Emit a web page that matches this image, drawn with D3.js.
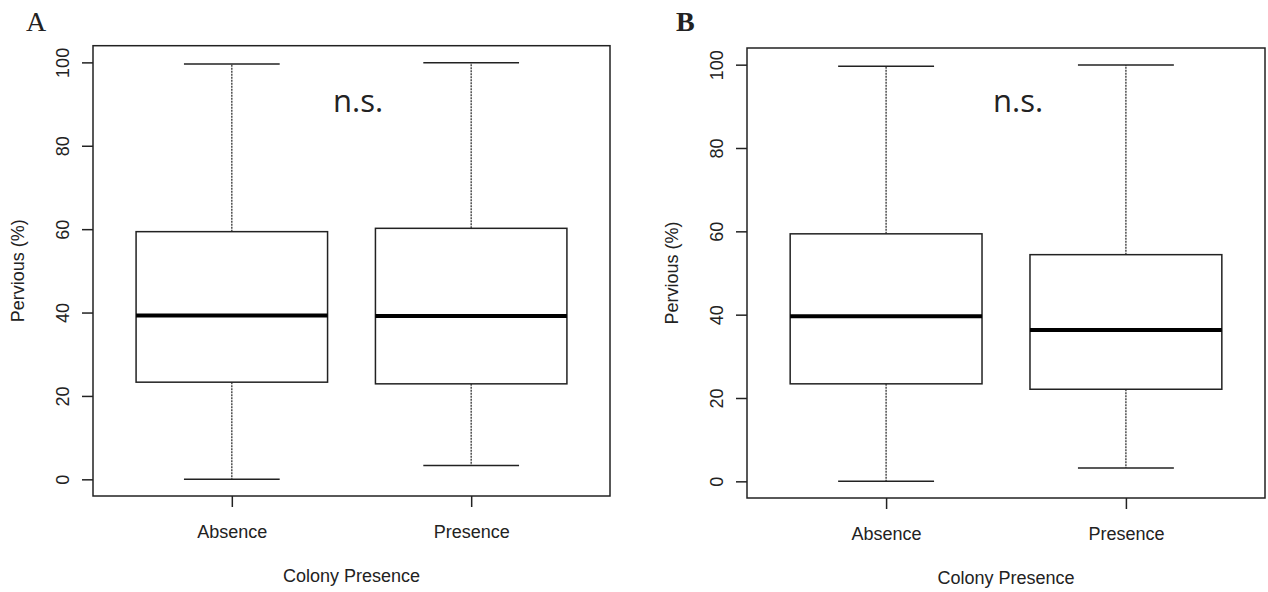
<!DOCTYPE html>
<html>
<head>
<meta charset="utf-8">
<script src="https://cdn.jsdelivr.net/npm/d3@7"></script>
<style>
  body { margin: 0; background: #fff; }
  svg text { font-family: "Liberation Sans", Arial, sans-serif; fill: #222; }
</style>
</head>
<body>
<div id="chart"></div>
<script>
// two boxplots, pervious surface vs colony presence
var categories = ["Absence", "Presence"]
var yTicks = [0, 20, 40, 60, 80, 100]

// panel A five-number summaries
var lowA  = [0, 3.3]
var q1A   = [23.3, 22.9]
var medA  = [39.3, 39.2]
var q3A   = [59.4, 60.2]
var highA = [99.6, 99.9]

// panel B
var lowB  = [0, 3.2]
var q1B   = [23.4, 22.1]
var medB  = [39.6, 36.3]
var q3B   = [59.4, 54.4]
var highB = [99.6, 99.9]

var svg = d3.select("#chart").append("svg")
  .attr("width", 1268)
  .attr("height", 592)

function boxPanel(opt) {
  var x = d3.scaleLinear().domain([0.42, 2.58]).range([opt.left, opt.right])
  var y = d3.scaleLinear().domain([-4, 104]).range([opt.bottom, opt.top])
  var g = svg.append("g")

  var rows = categories.map(function(c, i) {
    return {i: i + 1, low: opt.low[i], q1: opt.q1[i], med: opt.med[i], q3: opt.q3[i], high: opt.high[i]}
  })
  var bw = x(1.4) - x(1)   // half box width
  var cw = x(1.2) - x(1)   // half staple width

  var b = g.selectAll(".box").data(rows).enter().append("g").attr("class", "box")

  // whiskers
  b.append("line")
    .attr("x1", function(d) { return x(d.i) }).attr("x2", function(d) { return x(d.i) })
    .attr("y1", function(d) { return y(d.q3) }).attr("y2", function(d) { return y(d.high) })
    .attr("stroke", "#333").attr("stroke-width", 1.3).attr("stroke-dasharray", "2,1")
  b.append("line")
    .attr("x1", function(d) { return x(d.i) }).attr("x2", function(d) { return x(d.i) })
    .attr("y1", function(d) { return y(d.q1) }).attr("y2", function(d) { return y(d.low) })
    .attr("stroke", "#333").attr("stroke-width", 1.3).attr("stroke-dasharray", "2,1")

  // staples
  b.append("line")
    .attr("x1", function(d) { return x(d.i) - cw }).attr("x2", function(d) { return x(d.i) + cw })
    .attr("y1", function(d) { return y(d.high) }).attr("y2", function(d) { return y(d.high) })
    .attr("stroke", "#222").attr("stroke-width", 1.5)
  b.append("line")
    .attr("x1", function(d) { return x(d.i) - cw }).attr("x2", function(d) { return x(d.i) + cw })
    .attr("y1", function(d) { return y(d.low) }).attr("y2", function(d) { return y(d.low) })
    .attr("stroke", "#222").attr("stroke-width", 1.5)

  // box
  b.append("rect")
    .attr("x", function(d) { return x(d.i) - bw })
    .attr("width", 2 * bw)
    .attr("y", function(d) { return y(d.q3) })
    .attr("height", function(d) { return y(d.q1) - y(d.q3) })
    .attr("fill", "#fff").attr("stroke", "#222").attr("stroke-width", 1.5)

  // median
  b.append("line")
    .attr("x1", function(d) { return x(d.i) - bw }).attr("x2", function(d) { return x(d.i) + bw })
    .attr("y1", function(d) { return y(d.med) }).attr("y2", function(d) { return y(d.med) })
    .attr("stroke", "#000").attr("stroke-width", 4)

  // frame
  g.append("rect")
    .attr("x", opt.left).attr("y", opt.top)
    .attr("width", opt.right - opt.left).attr("height", opt.bottom - opt.top)
    .attr("fill", "none").attr("stroke", "#222").attr("stroke-width", 1.5)

  // y axis
  var ya = g.append("g")
    .attr("transform", "translate(" + opt.left + ",0)")
    .call(d3.axisLeft(y).tickValues(yTicks).tickSize(11))
  ya.select(".domain").remove()
  ya.selectAll("line").attr("stroke", "#222").attr("stroke-width", 1.5)
  ya.selectAll("text")
    .attr("x", 0).attr("dy", 0)
    .attr("text-anchor", "middle")
    .attr("transform", "translate(-24,0) rotate(-90)")
    .style("font-size", "18px")
    .attr("fill", "#222")

  // x axis
  var xa = g.append("g")
    .attr("transform", "translate(0," + opt.bottom + ")")
    .call(d3.axisBottom(x).tickValues([1, 2]).tickSize(11)
      .tickFormat(function(d) { return categories[d - 1] }))
  xa.select(".domain").remove()
  xa.selectAll("line").attr("stroke", "#222").attr("stroke-width", 1.5)
  xa.selectAll("text")
    .attr("y", 42).attr("dy", 0)
    .style("font-size", "18px")
    .attr("fill", "#222")

  // axis titles
  g.append("text")
    .attr("x", (opt.left + opt.right) / 2).attr("y", opt.bottom + 86)
    .attr("text-anchor", "middle")
    .style("font-size", "18px")
    .text("Colony Presence")
  g.append("text")
    .attr("transform", "translate(" + (opt.left - 69) + "," + ((opt.top + opt.bottom) / 2) + ") rotate(-90)")
    .attr("text-anchor", "middle")
    .style("font-size", "18px")
    .text("Pervious (%)")

  // significance note
  g.append("text")
    .attr("x", opt.nsX).attr("y", 112)
    .style("font-family", "'Open Sans', sans-serif")
    .style("font-size", "31px")
    .attr("fill", "#000")
    .text("n.s.")

  // panel letter
  g.append("text")
    .attr("x", opt.letterX).attr("y", 31)
    .style("font-family", "'Liberation Serif', 'Times New Roman', serif")
    .style("font-size", "28px")
    .style("font-weight", opt.bold ? "bold" : "normal")
    .attr("fill", "#000")
    .text(opt.letter)
}

boxPanel({left: 93, right: 610, top: 45.7, bottom: 496, low: lowA, q1: q1A, med: medA, q3: q3A, high: highA,
  nsX: 333, letter: "A", letterX: 26, bold: false})
boxPanel({left: 747, right: 1265, top: 48, bottom: 498, low: lowB, q1: q1B, med: medB, q3: q3B, high: highB,
  nsX: 993, letter: "B", letterX: 676, bold: true})
</script>
</body>
</html>
